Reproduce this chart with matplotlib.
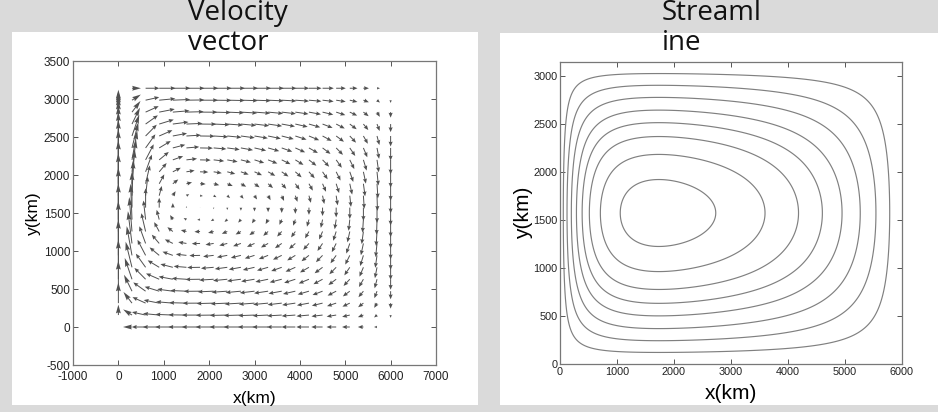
import numpy as np
import matplotlib
matplotlib.use("Agg")
import matplotlib.pyplot as plt
from matplotlib.patches import Rectangle

plt.rcParams["axes.unicode_minus"] = False

# ---------------- data / model parameters ----------------
# Stommel wind-driven gyre: psi = f(x) * sin(pi*y/b)
basin_width_km = 6000.0          # lambda
basin_height_km = 3141.59        # b  (pi * 1000 km)
friction_alpha = 0.0015          # beta/R in 1/km -> western boundary layer

# arrow grid (21 x 21)
x_grid_km = [0, 300, 600, 900, 1200, 1500, 1800, 2100, 2400, 2700, 3000,
             3300, 3600, 3900, 4200, 4500, 4800, 5100, 5400, 5700, 6000]
y_grid_km = [0.0, 157.08, 314.16, 471.24, 628.32, 785.40, 942.48, 1099.56,
             1256.64, 1413.72, 1570.80, 1727.88, 1884.96, 2042.04, 2199.11,
             2356.19, 2513.27, 2670.35, 2827.43, 2984.51, 3141.59]

# streamline levels as fraction of the maximum streamfunction
psi_levels_frac = [0.12, 0.24, 0.36, 0.48, 0.59, 0.70, 0.82, 0.94]

left_xticks = [-1000, 0, 1000, 2000, 3000, 4000, 5000, 6000, 7000]
left_yticks = [-500, 0, 500, 1000, 1500, 2000, 2500, 3000, 3500]
right_xticks = [0, 1000, 2000, 3000, 4000, 5000, 6000]
right_yticks = [0, 500, 1000, 1500, 2000, 2500, 3000]

title_left = "Velocity\nvector"
title_right = "Streaml\nine"
xlabel_text = "x(km)"
ylabel_text = "y(km)"


def stommel(x, y):
    lam, b, a = basin_width_km, basin_height_km, friction_alpha
    k = np.pi / b
    root = np.sqrt(a * a / 4.0 + k * k)
    A = -a / 2.0 + root
    B = -a / 2.0 - root
    p = (1.0 - np.exp(B * lam)) / (np.exp(A * lam) - np.exp(B * lam))
    q = 1.0 - p
    f = 1.0 - p * np.exp(A * x) - q * np.exp(B * x)
    df = -p * A * np.exp(A * x) - q * B * np.exp(B * x)
    psi = f * np.sin(k * y)
    u = -f * k * np.cos(k * y)
    v = df * np.sin(k * y)
    return psi, u, v


# ---------------- figure ----------------
W, H = 938, 412
fig = plt.figure(figsize=(W / 100, H / 100), dpi=100)
fig.patch.set_facecolor("#dadada")

def fx(px):
    return px / W

def fy(py):
    return 1 - py / H

fig.add_artist(Rectangle((fx(12), fy(405)), fx(478 - 12), (405 - 32) / H,
                         transform=fig.transFigure, facecolor="white",
                         edgecolor="none", zorder=-5))
fig.add_artist(Rectangle((fx(500), fy(405)), fx(938 - 500), (405 - 33) / H,
                         transform=fig.transFigure, facecolor="white",
                         edgecolor="none", zorder=-5))

tick_font = "Liberation Sans"
title_font = "Open Sans"
arrow_color = "#505050"

# ---- left: velocity vectors ----
ax1 = fig.add_axes([fx(73), fy(365), fx(436 - 73), (365 - 61) / H])
Xg, Yg = np.meshgrid(np.array(x_grid_km, float), np.array(y_grid_km, float))
_, U, V = stommel(Xg, Yg)
xf = np.linspace(0, basin_width_km, 601)
psi_x, _, _ = stommel(xf, basin_height_km / 2)
umax = psi_x.max() * np.pi / basin_height_km
U = U / umax
V = V / umax
mag = np.hypot(U, V)
mask = mag < 1e-6

# western boundary columns (long arrows, larger heads) and interior
west = Xg <= 300
for sel, hw, hl, hal in ((west, 5.0, 9.0, 8.0), (~west, 4.2, 5.0, 4.5)):
    m = mask | ~sel
    ax1.quiver(Xg, Yg, np.ma.masked_array(U, m), np.ma.masked_array(V, m),
               angles="xy", scale_units="xy", scale=1 / 400.0,
               color=arrow_color, width=0.0027, headwidth=hw, headlength=hl,
               headaxislength=hal, minlength=0.3)
ax1.set_xlim(-1000, 7000)
ax1.set_ylim(-500, 3500)
ax1.set_xticks(left_xticks)
ax1.set_yticks(left_yticks)
ax1.set_xlabel(xlabel_text, fontsize=12.5, family=tick_font, labelpad=6)
ax1.set_ylabel(ylabel_text, fontsize=12.5, family=tick_font, labelpad=2)

# ---- right: streamlines ----
ax2 = fig.add_axes([fx(560), fy(364), fx(902 - 560), (364 - 62) / H])
xs = np.linspace(0, basin_width_km, 401)
ys = np.linspace(0, basin_height_km, 301)
Xs, Ys = np.meshgrid(xs, ys)
PSI, _, _ = stommel(Xs, Ys)
pmax = PSI.max()
ax2.contour(Xs, Ys, PSI, levels=[c * pmax for c in psi_levels_frac],
            colors="#808080", linewidths=0.85)
ax2.set_xlim(0, basin_width_km)
ax2.set_ylim(0, basin_height_km)
ax2.set_xticks(right_xticks)
ax2.set_yticks(right_yticks)
ax2.set_xlabel(xlabel_text, fontsize=15, family=tick_font, labelpad=5)
ax2.set_ylabel(ylabel_text, fontsize=15, family=tick_font, labelpad=0)

for ax, fs, xpad in ((ax1, 8.5, 4), (ax2, 7.8, 2.5)):
    ax.tick_params(direction="in", top=True, right=True, length=3.5,
                   width=0.7, color="#555555", labelsize=fs, pad=2)
    ax.tick_params(axis="x", pad=xpad)
    for lab in ax.get_xticklabels() + ax.get_yticklabels():
        lab.set_family(tick_font)
        lab.set_color("#222222")
    for s in ax.spines.values():
        s.set_color("#777777")
        s.set_linewidth(0.9)

fig.text(fx(188), fy(50), title_left, ha="left", va="baseline",
         fontsize=20, family=title_font, linespacing=1.1, color="#111111")
fig.text(fx(662), fy(50), title_right, ha="left", va="baseline",
         fontsize=20, family=title_font, linespacing=1.1, color="#111111")

fig.savefig("out.png", dpi=100, facecolor=fig.get_facecolor())
